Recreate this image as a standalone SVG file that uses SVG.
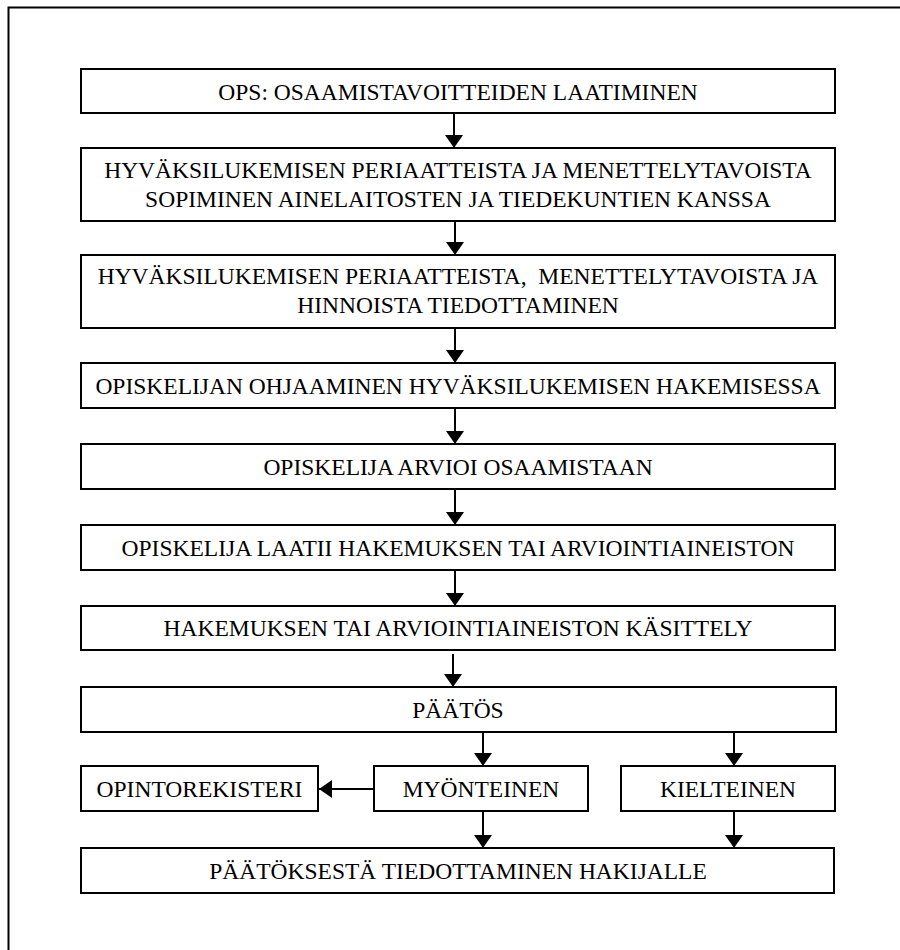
<svg xmlns="http://www.w3.org/2000/svg" width="900" height="950" viewBox="0 0 900 950">
  <style>
    .box { fill: #ffffff; stroke: #000000; stroke-width: 2; }
    text { font-family: 'Liberation Serif', 'Times New Roman', Times, serif; font-size: 23.5px; font-weight: normal; fill: #000000; text-anchor: middle; }
    .edge { stroke: #000000; stroke-width: 2; fill: none; marker-end: url(#head); }
  </style>
  <defs>
    <marker id="head" viewBox="0 0 13 18" refX="13" refY="9" markerWidth="13" markerHeight="18" markerUnits="userSpaceOnUse" orient="auto">
      <path d="M0,0 L13,9 L0,18 Z" fill="#000000"/>
    </marker>
  </defs>

  <rect width="900" height="950" fill="#ffffff"/>
  <!-- page frame, running off the right and bottom edges -->
  <rect x="8.5" y="7.5" width="900" height="960" fill="none" stroke="#000000" stroke-width="2"/>

  <g id="n1">
    <rect class="box" x="81" y="69" width="754" height="44"/>
    <text x="458" y="100">OPS: OSAAMISTAVOITTEIDEN LAATIMINEN</text>
  </g>
  <g id="n2">
    <rect class="box" x="81" y="148" width="754" height="73"/>
    <text x="458" y="178">HYVÄKSILUKEMISEN PERIAATTEISTA JA MENETTELYTAVOISTA</text>
    <text x="458" y="207">SOPIMINEN AINELAITOSTEN JA TIEDEKUNTIEN KANSSA</text>
  </g>
  <g id="n3">
    <rect class="box" x="81" y="255" width="754" height="73"/>
    <text x="458" y="284" xml:space="preserve">HYVÄKSILUKEMISEN PERIAATTEISTA,  MENETTELYTAVOISTA JA</text>
    <text x="458" y="313">HINNOISTA TIEDOTTAMINEN</text>
  </g>
  <g id="n4">
    <rect class="box" x="81" y="363" width="754" height="45"/>
    <text x="458" y="394">OPISKELIJAN OHJAAMINEN HYVÄKSILUKEMISEN HAKEMISESSA</text>
  </g>
  <g id="n5">
    <rect class="box" x="81" y="444" width="754" height="45"/>
    <text x="458" y="475">OPISKELIJA ARVIOI OSAAMISTAAN</text>
  </g>
  <g id="n6">
    <rect class="box" x="81" y="525" width="754" height="45"/>
    <text x="458" y="556">OPISKELIJA LAATII HAKEMUKSEN TAI ARVIOINTIAINEISTON</text>
  </g>
  <g id="n7">
    <rect class="box" x="81" y="606" width="754" height="44"/>
    <text x="458" y="636">HAKEMUKSEN TAI ARVIOINTIAINEISTON KÄSITTELY</text>
  </g>
  <g id="n8">
    <rect class="box" x="81" y="687" width="755" height="45"/>
    <text x="458" y="718">PÄÄTÖS</text>
  </g>
  <g id="n9">
    <rect class="box" x="81" y="766" width="237" height="45"/>
    <text x="199.5" y="797">OPINTOREKISTERI</text>
  </g>
  <g id="n10">
    <rect class="box" x="374" y="766" width="214" height="45"/>
    <text x="481" y="797">MYÖNTEINEN</text>
  </g>
  <g id="n11">
    <rect class="box" x="621" y="766" width="214" height="45"/>
    <text x="728" y="797">KIELTEINEN</text>
  </g>
  <g id="n12">
    <rect class="box" x="81" y="848" width="753" height="45"/>
    <text x="458" y="879">PÄÄTÖKSESTÄ TIEDOTTAMINEN HAKIJALLE</text>
  </g>

  <g id="connectors">
    <line class="edge" x1="454" y1="113" x2="454" y2="148"/>
    <line class="edge" x1="455" y1="221" x2="455" y2="255"/>
    <line class="edge" x1="455" y1="328" x2="455" y2="363"/>
    <line class="edge" x1="455" y1="408" x2="455" y2="444"/>
    <line class="edge" x1="455" y1="489" x2="455" y2="525"/>
    <line class="edge" x1="455" y1="570" x2="455" y2="606"/>
    <line class="edge" x1="453" y1="654" x2="453" y2="687"/>
    <line class="edge" x1="483" y1="732" x2="483" y2="766"/>
    <line class="edge" x1="734" y1="732" x2="734" y2="766"/>
    <line class="edge" x1="374" y1="789" x2="319" y2="789"/>
    <line class="edge" x1="483" y1="811" x2="483" y2="848"/>
    <line class="edge" x1="734" y1="811" x2="734" y2="848"/>
  </g>
</svg>
